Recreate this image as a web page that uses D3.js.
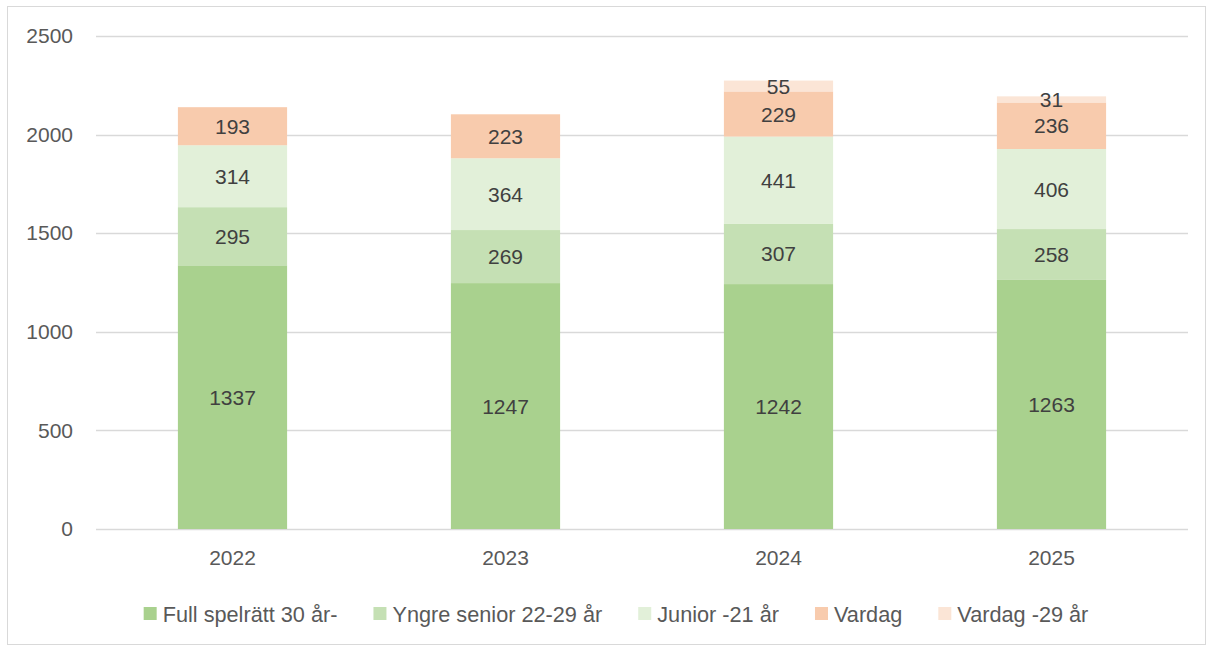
<!DOCTYPE html>
<html>
  <head>
    <meta charset="utf-8">
    <title>Medlemmar per kategori</title>
    <script src="https://d3js.org/d3.v7.min.js"></script>
    <style>
      body { margin: 0; background: #fff; }
      text { font-family: "Liberation Sans", Arial, sans-serif; }
      .axis text { font-size: 21px; fill: #595959; }
      .label { font-size: 21px; fill: #404040; text-anchor: middle; }
      .legend text { font-size: 21.7px; fill: #595959; }
    </style>
  </head>
  <body>
    <script>
      // data
      var years = ["2022", "2023", "2024", "2025"];
      var seriesNames = ["Full spelrätt 30 år-", "Yngre senior 22-29 år", "Junior -21 år", "Vardag", "Vardag -29 år"];
      var fullSpelratt = [1337, 1247, 1242, 1263];
      var yngreSenior = [295, 269, 307, 258];
      var junior = [314, 364, 441, 406];
      var vardag = [193, 223, 229, 236];
      var vardag29 = [0, 0, 55, 31];
      var yTicks = [0, 500, 1000, 1500, 2000, 2500];

      var colors = ["#a9d18e", "#c5e0b4", "#e2f0d9", "#f8cbad", "#fbe5d6"];
      var seriesValues = [fullSpelratt, yngreSenior, junior, vardag, vardag29];

      var rows = years.map(function(y, i) {
        var r = { year: y };
        seriesNames.forEach(function(s, j) { r[s] = seriesValues[j][i]; });
        return r;
      });

      var width = 1213, height = 648;
      var svg = d3.select("body").append("svg")
                  .attr("width", width)
                  .attr("height", height);

      // outer chart frame
      svg.append("rect")
         .attr("x", 7.5).attr("y", 6.5)
         .attr("width", 1198).attr("height", 638)
         .attr("fill", "none")
         .attr("stroke", "#d9d9d9");

      var x = d3.scaleBand()
                .domain(years)
                .range([96, 1188])
                .paddingInner(0.6)
                .paddingOuter(0.3);
      var y = d3.scaleLinear()
                .domain([0, 2500])
                .range([529, 36]);

      // gridlines
      svg.append("g")
         .selectAll("line")
         .data(yTicks)
         .enter().append("line")
         .attr("x1", 96).attr("x2", 1188)
         .attr("y1", function(d) { return Math.round(y(d)) + 0.5; })
         .attr("y2", function(d) { return Math.round(y(d)) + 0.5; })
         .attr("stroke", "#d9d9d9")
         .attr("stroke-width", 1.5);

      var stack = d3.stack().keys(seriesNames)(rows);

      var layers = svg.append("g")
         .selectAll("g")
         .data(stack)
         .enter().append("g")
         .attr("fill", function(d, i) { return colors[i]; });

      layers.selectAll("rect")
         .data(function(d) { return d; })
         .enter().append("rect")
         .attr("x", function(d) { return x(d.data.year); })
         .attr("width", x.bandwidth())
         .attr("y", function(d) { return y(d[1]); })
         .attr("height", function(d) { return y(d[0]) - y(d[1]); });

      // value labels
      layers.selectAll("text")
         .data(function(d) { return d.filter(function(p) { return p[1] - p[0] > 0; }); })
         .enter().append("text")
         .attr("class", "label")
         .attr("x", function(d) { return x(d.data.year) + x.bandwidth() / 2; })
         .attr("y", function(d) { return y((d[0] + d[1]) / 2); })
         .attr("dy", "0.36em")
         .text(function(d) { return d[1] - d[0]; });

      // y axis
      var yAxis = svg.append("g")
         .attr("class", "axis")
         .attr("transform", "translate(73,0)")
         .call(d3.axisLeft(y).tickValues(yTicks).tickFormat(d3.format("d")).tickSize(0).tickPadding(0));
      yAxis.select(".domain").remove();

      // x axis
      var xAxis = svg.append("g")
         .attr("class", "axis")
         .attr("transform", "translate(0,529)")
         .call(d3.axisBottom(x).tickSize(0).tickPadding(21));
      xAxis.select(".domain").remove();

      // legend
      var legend = svg.append("g").attr("class", "legend");
      var lx = 0;
      seriesNames.forEach(function(name, i) {
        var item = legend.append("g").attr("transform", "translate(" + lx + ",0)");
        item.append("rect")
            .attr("x", 0).attr("y", -7)
            .attr("width", 13).attr("height", 13)
            .attr("fill", colors[i]);
        var t = item.append("text")
            .attr("x", 19).attr("y", 0)
            .attr("dy", "0.36em")
            .text(name);
        lx += 19 + t.node().getComputedTextLength() + 36;
      });
      var legendWidth = lx - 36;
      legend.attr("transform", "translate(" + (616 - legendWidth / 2) + ",614)");
    </script>
  </body>
</html>
